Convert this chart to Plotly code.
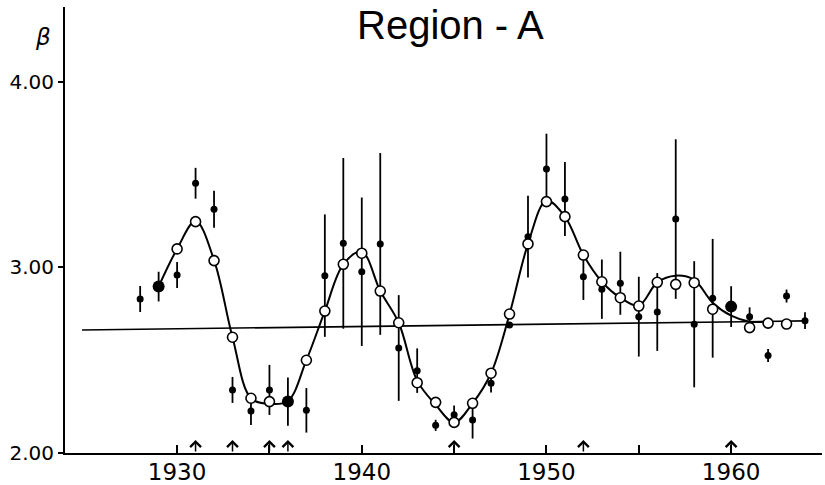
import plotly.graph_objects as go

# ---- data ----
obs_years = [1928, 1930, 1931, 1932, 1933, 1934, 1935, 1937, 1938, 1939, 1940, 1941,
             1942, 1943, 1944, 1945, 1946, 1947, 1948, 1949, 1950, 1951, 1952, 1953,
             1954, 1955, 1956, 1957, 1958, 1959, 1961, 1962, 1963, 1964]
obs_beta = [2.83, 2.96, 3.454, 3.314, 2.34, 2.226, 2.34, 2.23, 2.956, 3.13, 2.977, 3.127,
            2.566, 2.444, 2.149, 2.206, 2.178, 2.376, 2.69, 3.166, 3.531, 3.369, 2.95, 2.883,
            2.915, 2.735, 2.76, 3.261, 2.694, 2.834, 2.735, 2.525, 2.846, 2.713]
obs_err = [0.07, 0.07, 0.083, 0.10, 0.07, 0.075, 0.135, 0.12, 0.33, 0.46, 0.40, 0.49,
           0.285, 0.12, 0.03, 0.05, 0.10, 0.05, 0.0, 0.22, 0.19, 0.20, 0.125, 0.16,
           0.17, 0.215, 0.21, 0.43, 0.34, 0.32, 0.05, 0.035, 0.035, 0.045]

big_years = [1929, 1936, 1960]
big_beta = [2.897, 2.277, 2.789]
big_err = [0.08, 0.13, 0.11]

open_years = [1930, 1931, 1932, 1933, 1934, 1935, 1937, 1938, 1939, 1940, 1941, 1942,
              1943, 1944, 1945, 1946, 1947, 1948, 1949, 1950, 1951, 1952, 1953, 1954,
              1955, 1956, 1957, 1958, 1959, 1961, 1962, 1963]
open_beta = [3.10, 3.247, 3.037, 2.624, 2.295, 2.277, 2.50, 2.765, 3.017, 3.077, 2.873, 2.702,
             2.379, 2.273, 2.165, 2.268, 2.43, 2.749, 3.127, 3.355, 3.274, 3.067, 2.923, 2.837,
             2.792, 2.92, 2.909, 2.918, 2.775, 2.676, 2.70, 2.695]

curve_years = [1929, 1930, 1931, 1932, 1933, 1934, 1935, 1936, 1937, 1938, 1939, 1940,
               1941, 1942, 1943, 1944, 1945, 1946, 1947, 1948, 1949, 1950, 1951, 1952,
               1953, 1954, 1955, 1956, 1957, 1958, 1959, 1960, 1961, 1962]
curve_beta = [2.897, 3.10, 3.25, 3.04, 2.624, 2.295, 2.265, 2.28, 2.50, 2.765, 3.017, 3.085,
              2.873, 2.702, 2.39, 2.26, 2.165, 2.268, 2.43, 2.748, 3.127, 3.36, 3.274, 3.067,
              2.923, 2.837, 2.795, 2.92, 2.956, 2.933, 2.81, 2.74, 2.708, 2.709]

trend_years = [1924.85, 1964.0]
trend_beta = [2.663, 2.712]

arrow_years = [1931, 1933, 1935, 1936, 1945, 1952, 1960]

x_ticks = [1930, 1935, 1940, 1945, 1950, 1955, 1960]
x_ticktext = ["1930", "", "1940", "", "1950", "", "1960"]
y_ticks = [2, 3, 4]
y_ticktext = ["2.00", "3.00", "4.00"]

fig = go.Figure()

fig.add_trace(go.Scatter(x=trend_years, y=trend_beta, mode="lines",
                         line=dict(color="black", width=1.6), hoverinfo="skip"))
fig.add_trace(go.Scatter(x=curve_years, y=curve_beta, mode="lines",
                         line=dict(color="black", width=2, shape="spline", smoothing=1.0),
                         hoverinfo="skip"))
fig.add_trace(go.Scatter(x=obs_years, y=obs_beta, mode="markers",
                         marker=dict(color="black", size=7),
                         error_y=dict(type="data", array=obs_err, symmetric=True,
                                      color="black", thickness=1.8, width=0)))
fig.add_trace(go.Scatter(x=big_years, y=big_beta, mode="markers",
                         marker=dict(color="black", size=12),
                         error_y=dict(type="data", array=big_err, symmetric=True,
                                      color="black", thickness=1.8, width=0)))
fig.add_trace(go.Scatter(x=open_years, y=open_beta, mode="markers",
                         marker=dict(color="white", size=10,
                                     line=dict(color="black", width=1.6))))

annotations = []
for yr in arrow_years:
    annotations.append(dict(x=yr, y=2.07, xref="x", yref="y", text="", showarrow=True,
                            ax=0, ay=13, arrowhead=4, arrowsize=1.4, arrowwidth=1.5,
                            arrowcolor="black"))
annotations.append(dict(text="Region - A", xref="paper", yref="paper", x=0.5086, y=0.96,
                        xanchor="center", yanchor="middle", showarrow=False,
                        font=dict(family="Liberation Sans, Arial", size=40, color="black")))
annotations.append(dict(text="<i>β</i>", xref="paper", yref="paper", x=-0.029, y=0.933,
                        xanchor="center", yanchor="middle", showarrow=False,
                        font=dict(family="DejaVu Sans", size=23, color="black")))

fig.update_layout(
    width=825, height=485,
    margin=dict(l=65, r=3, t=7, b=32, autoexpand=False),
    paper_bgcolor="white", plot_bgcolor="white",
    showlegend=False,
    annotations=annotations,
    xaxis=dict(range=[1923.93, 1964.92], showgrid=False, zeroline=False, automargin=False,
               showline=True, linecolor="black", linewidth=2,
               ticks="inside", ticklen=8, tickwidth=1.5, tickcolor="black",
               tickvals=x_ticks, ticktext=x_ticktext, ticklabelstandoff=-3,
               tickfont=dict(family="DejaVu Sans", size=23, color="black")),
    yaxis=dict(range=[2.0, 4.404], showgrid=False, zeroline=False, automargin=False,
               showline=True, linecolor="black", linewidth=2,
               ticks="outside", ticklen=5, tickwidth=1.5, tickcolor="black",
               tickvals=y_ticks, ticktext=y_ticktext,
               tickfont=dict(family="DejaVu Sans", size=20, color="black")),
)

fig.write_html(
    "out.html",
    config={"displayModeBar": False},
    post_script="document.body.style.margin='0';document.body.style.padding='0';"
                "document.body.style.overflow='hidden';",
)
